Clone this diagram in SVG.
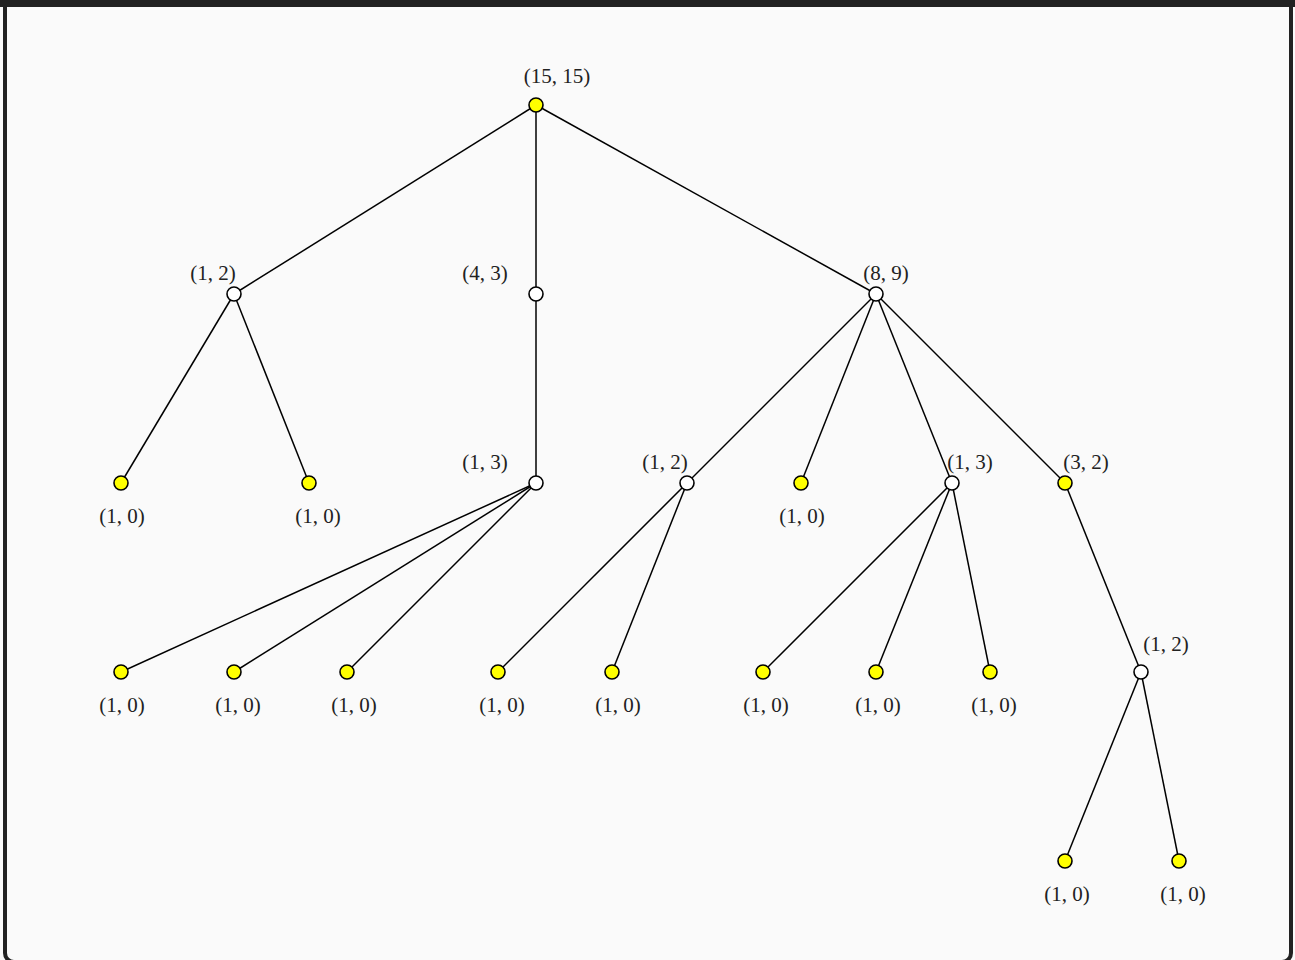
<svg xmlns="http://www.w3.org/2000/svg" width="1295" height="960" viewBox="0 0 1295 960">
<style>
.e{stroke:#000;stroke-width:1.5;fill:none}
.n{stroke:#000;stroke-width:1.6}
.y{fill:#ffff00}
.w{fill:#ffffff}
text{font-family:"Liberation Serif","DejaVu Serif",serif;font-size:21px;fill:#222;text-anchor:middle}
</style>
<rect x="0" y="0" width="1295" height="960" fill="#fafafa"/>
<rect x="5" y="-10" width="1286" height="972" rx="9" fill="none" stroke="#222" stroke-width="4"/>
<rect x="0" y="0" width="1295" height="7" fill="#222"/>
<g id="connectors">
<line class="e" x1="536" y1="105" x2="234" y2="294"/>
<line class="e" x1="536" y1="105" x2="536" y2="294"/>
<line class="e" x1="536" y1="105" x2="876" y2="294"/>
<line class="e" x1="234" y1="294" x2="121" y2="483"/>
<line class="e" x1="234" y1="294" x2="309" y2="483"/>
<line class="e" x1="536" y1="294" x2="536" y2="483"/>
<line class="e" x1="536" y1="483" x2="121" y2="672"/>
<line class="e" x1="536" y1="483" x2="234" y2="672"/>
<line class="e" x1="536" y1="483" x2="347" y2="672"/>
<line class="e" x1="876" y1="294" x2="687" y2="483"/>
<line class="e" x1="876" y1="294" x2="801" y2="483"/>
<line class="e" x1="876" y1="294" x2="952" y2="483"/>
<line class="e" x1="876" y1="294" x2="1065" y2="483"/>
<line class="e" x1="687" y1="483" x2="498" y2="672"/>
<line class="e" x1="687" y1="483" x2="612" y2="672"/>
<line class="e" x1="952" y1="483" x2="763" y2="672"/>
<line class="e" x1="952" y1="483" x2="876" y2="672"/>
<line class="e" x1="952" y1="483" x2="990" y2="672"/>
<line class="e" x1="1065" y1="483" x2="1141" y2="672"/>
<line class="e" x1="1141" y1="672" x2="1065" y2="861"/>
<line class="e" x1="1141" y1="672" x2="1179" y2="861"/>
</g>
<g id="root"><circle class="n y" cx="536" cy="105" r="7"/><text x="557" y="83">(15, 15)</text></g>
<g id="a"><circle class="n w" cx="234" cy="294" r="7"/><text x="213" y="280">(1, 2)</text></g>
<g id="b"><circle class="n w" cx="536" cy="294" r="7"/><text x="485" y="280">(4, 3)</text></g>
<g id="c"><circle class="n w" cx="876" cy="294" r="7"/><text x="886" y="280">(8, 9)</text></g>
<g id="a1"><circle class="n y" cx="121" cy="483" r="7"/><text x="122" y="523">(1, 0)</text></g>
<g id="a2"><circle class="n y" cx="309" cy="483" r="7"/><text x="318" y="523">(1, 0)</text></g>
<g id="b1"><circle class="n w" cx="536" cy="483" r="7"/><text x="485" y="469">(1, 3)</text></g>
<g id="c1"><circle class="n w" cx="687" cy="483" r="7"/><text x="665" y="469">(1, 2)</text></g>
<g id="c2"><circle class="n y" cx="801" cy="483" r="7"/><text x="802" y="523">(1, 0)</text></g>
<g id="c3"><circle class="n w" cx="952" cy="483" r="7"/><text x="970" y="469">(1, 3)</text></g>
<g id="c4"><circle class="n y" cx="1065" cy="483" r="7"/><text x="1086" y="469">(3, 2)</text></g>
<g id="b11"><circle class="n y" cx="121" cy="672" r="7"/><text x="122" y="712">(1, 0)</text></g>
<g id="b12"><circle class="n y" cx="234" cy="672" r="7"/><text x="238" y="712">(1, 0)</text></g>
<g id="b13"><circle class="n y" cx="347" cy="672" r="7"/><text x="354" y="712">(1, 0)</text></g>
<g id="c11"><circle class="n y" cx="498" cy="672" r="7"/><text x="502" y="712">(1, 0)</text></g>
<g id="c12"><circle class="n y" cx="612" cy="672" r="7"/><text x="618" y="712">(1, 0)</text></g>
<g id="c31"><circle class="n y" cx="763" cy="672" r="7"/><text x="766" y="712">(1, 0)</text></g>
<g id="c32"><circle class="n y" cx="876" cy="672" r="7"/><text x="878" y="712">(1, 0)</text></g>
<g id="c33"><circle class="n y" cx="990" cy="672" r="7"/><text x="994" y="712">(1, 0)</text></g>
<g id="c41"><circle class="n w" cx="1141" cy="672" r="7"/><text x="1166" y="651">(1, 2)</text></g>
<g id="c411"><circle class="n y" cx="1065" cy="861" r="7"/><text x="1067" y="901">(1, 0)</text></g>
<g id="c412"><circle class="n y" cx="1179" cy="861" r="7"/><text x="1183" y="901">(1, 0)</text></g>
</svg>
